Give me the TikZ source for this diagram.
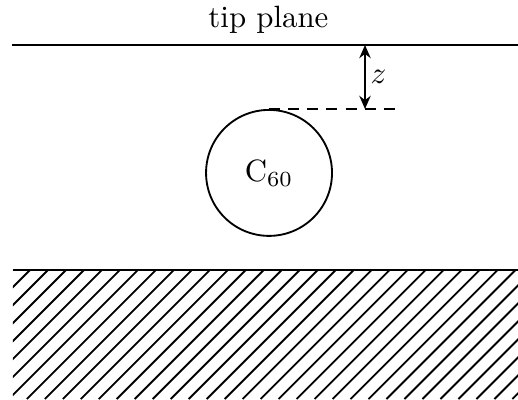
\documentclass[tikz,border=0pt]{standalone}
\usepackage{tikz}
\usetikzlibrary{arrows.meta}

\begin{document}
\begin{tikzpicture}[line width=0.6pt]
\useasboundingbox (0,0) rectangle (5.905,4.549);
% tip plane
\coordinate (pl) at (0.137,4.036); \coordinate (pr) at (5.905,4.036);
\draw (pl) -- (pr); \node (tip) at (3.06,4.32) {tip plane};
% molecule and its top
\node[draw,circle,minimum size=1.436cm,inner sep=0pt] (c60) at (3.067,2.578) {C$_{60}$};
\coordinate (dend) at (4.526,0 |- c60.north); \coordinate (zlow) at (4.161,0 |- c60.north);
\draw[dash pattern=on 3.6pt off 2.6pt] (c60.north) -- (dend);
\draw[{Stealth[length=1.5mm,width=1.3mm]}-{Stealth[length=1.5mm,width=1.3mm]}] (zlow |- pl) -- node[right,inner sep=1.5pt] {$z$} (zlow);
% substrate
\coordinate (sl) at (0.148,1.471); \coordinate (sr) at (5.905,1.471);
\draw (sl) -- (sr);
\begin{scope}
\clip (0.148,0) rectangle (sr);
\foreach \x in {-1.744,-1.539,...,6} \draw (\x,0) -- ++(1.6,1.6);
\end{scope}
\end{tikzpicture}
\end{document}
